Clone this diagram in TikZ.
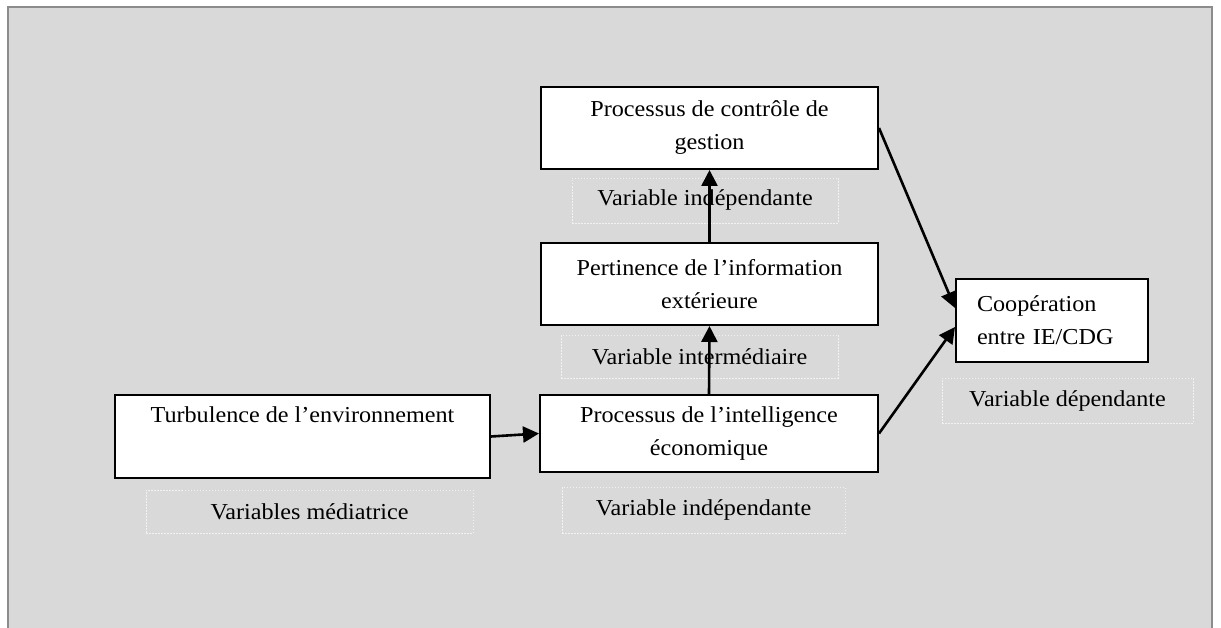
\documentclass[tikz,border=0pt]{standalone}
\usepackage{fontspec}
\setmainfont[FakeStretch=1.06]{Liberation Serif}
\usetikzlibrary{arrows.meta}
\definecolor{panel}{HTML}{D9D9D9}
\definecolor{frameline}{HTML}{8C8C8C}
\definecolor{tagline}{HTML}{F2F2F2}
\begin{document}
\begin{tikzpicture}[x=1pt,y=-1pt,
  every node/.style={font=\fontsize{22.8}{33}\selectfont, inner sep=0pt, align=center},
  varbox/.style={draw=black, line width=2pt, fill=white},
  tagbox/.style={draw=tagline, line width=0.8pt, dash pattern=on 1.5pt off 1.5pt, fill=panel},
  link/.style={line width=2.6pt, -{Triangle[length=16pt,width=16pt]}}]
\useasboundingbox (0,0) rectangle (1221,628);
\clip (0,0) rectangle (1221,628);
% background panel
\fill[white] (0,0) rectangle (1221,628);
\draw[frameline, fill=panel, line width=2pt] (8,7) rectangle (1212,640);

% variable type tags
\node[tagbox, minimum width=266pt, minimum height=45pt] (tctrl) at (705,200.5) {Variable indépendante};
\node[tagbox, minimum width=277pt, minimum height=43pt] (tpert) at (699.5,356.5) {Variable intermédiaire};
\node[tagbox, minimum width=283pt, minimum height=46pt] (tie)   at (703.5,510) {Variable indépendante};
\node[tagbox, minimum width=327pt, minimum height=43pt] (tturb) at (309.5,511.5) {Variables médiatrice};
\node[tagbox, minimum width=251pt, minimum height=45pt] (tcoop) at (1067.5,400.5) {Variable dépendante};

% variables
\node[varbox, minimum width=337pt, minimum height=82pt] (ctrl) at (709.5,128) {Processus de contrôle de\\gestion};
\node[varbox, minimum width=337pt, minimum height=82pt] (pert) at (709.5,284) {Pertinence de l’information\\extérieure};
\node[varbox, minimum width=338pt, minimum height=77pt] (ie)   at (709,433.5) {Processus de l’intelligence\\économique};
\node[varbox, minimum width=375pt, minimum height=83pt] (turb) at (302.5,436.5) {Turbulence de l’environnement\\\strut};
\node[varbox, minimum height=83pt, text width=150pt, align=left, inner xsep=21pt] (coop) at (1052,320.5) {Coopération\\entre IE/CDG};

% relations
\draw[link] (turb.east) -- (ie.west);
\draw[link] (ie.north) -- (pert.south);
\draw[link] (pert.north) -- (ctrl.south);
\draw[link] (ctrl.east) -- ([yshift=12.5pt]coop.west);
\draw[link] (ie.east) -- ([yshift=-6.5pt]coop.west);
\end{tikzpicture}
\end{document}
